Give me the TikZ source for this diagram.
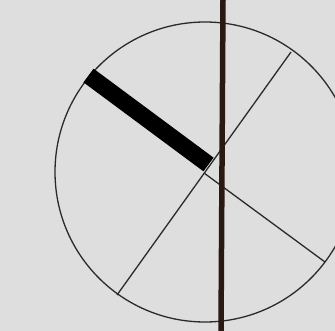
\documentclass[tikz,border=0pt]{standalone}
\usetikzlibrary{calc}
\definecolor{DialPaper}{HTML}{DEDEDE}
\definecolor{DialInk}{HTML}{2A2A2A}
\definecolor{DialRod}{HTML}{2A1812}
\tikzset{
  dial/rim/.style={draw=DialInk, line width=1.3pt},
  dial/spoke/.style={draw=DialInk, line width=1.3pt},
  dial/hand/.style={draw=black, line width=17pt, line cap=butt},
  dial/rod/.style={draw=DialRod, line width=5.5pt}
}
\begin{document}
\begin{tikzpicture}[x=1pt,y=-1pt]
  \fill[DialPaper] (0,0) rectangle (335,331);
  \useasboundingbox (0,0) rectangle (335,331);
  \clip (0,0) rectangle (335,331);
  \coordinate (hub) at (204,173);
  \coordinate (ne) at (291,52);
  \coordinate (sw) at (117,295);
  \coordinate (se) at (325,262);
  \coordinate (handout) at (88.5,75.5);
  \coordinate (handin) at (208.5,164.5);
  \coordinate (rodtop) at (223,0);
  \coordinate (rodbot) at (221,331);
  \draw[dial/rim] (205,172) circle[radius=150];
  \draw[dial/spoke] (ne) -- (sw);
  \draw[dial/spoke] (hub) -- (se);
  \draw[dial/hand] (handout) -- (handin);
  \draw[dial/rod] (rodtop) -- (rodbot);
\end{tikzpicture}
\end{document}
